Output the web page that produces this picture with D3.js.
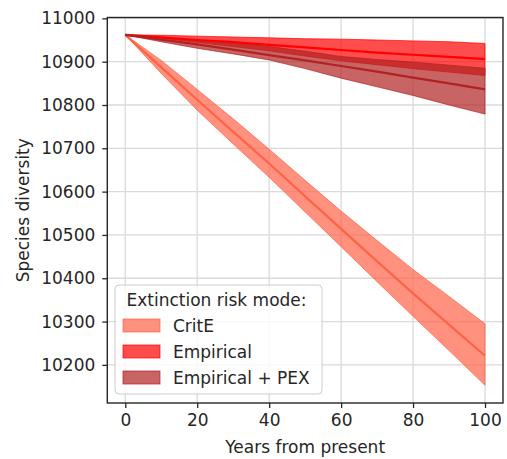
<!DOCTYPE html>
<html>
<head>
<meta charset="utf-8">
<script src="https://cdn.jsdelivr.net/npm/d3@7"></script>
<style>
  html, body { margin: 0; padding: 0; background: #fff; }
  svg { display: block; font-family: "DejaVu Sans", sans-serif; }
</style>
</head>
<body>
<svg id="chart" width="507" height="459"></svg>
<script>
// Simulated species diversity over the next century, per extinction risk mode
const years = [0, 10, 20, 30, 40, 50, 60, 70, 80, 90, 100];

const critEMean  = [10962, 10887, 10812, 10738, 10665, 10589, 10514, 10439, 10365, 10293, 10221];
const critELower = [10962, 10873, 10788, 10710, 10633, 10553, 10473, 10392, 10312, 10233, 10153];
const critEUpper = [10962, 10903, 10836, 10768, 10698, 10626, 10555, 10487, 10420, 10358, 10295];

const empMean  = [10962, 10956, 10950, 10945, 10939, 10933, 10927, 10921, 10916, 10911, 10906];
const empLower = [10962, 10954, 10945, 10935, 10925, 10913, 10902, 10893, 10884, 10876, 10868];
const empUpper = [10962, 10961, 10959, 10957, 10955, 10953, 10952, 10950, 10948, 10946, 10942];

const pexMean  = [10962, 10951, 10940, 10928, 10915, 10903, 10890, 10877, 10863, 10850, 10836];
const pexLower = [10962, 10946, 10931, 10918, 10904, 10884, 10862, 10842, 10822, 10800, 10779];
const pexUpper = [10962, 10956, 10950, 10943, 10935, 10924, 10912, 10905, 10899, 10892, 10885];

const xTicks = [0, 20, 40, 60, 80, 100];
const yTicks = [10200, 10300, 10400, 10500, 10600, 10700, 10800, 10900, 11000];

const modes = [
  { label: "CritE", mean: critEMean, lower: critELower, upper: critEUpper, band: "#ff6347", line: "#ff6347" },
  { label: "Empirical", mean: empMean, lower: empLower, upper: empUpper, band: "#ff0000", line: "#ff0000" },
  { label: "Empirical + PEX", mean: pexMean, lower: pexLower, upper: pexUpper, band: "#b22222", line: "#b22222" }
];

const textColor = "#262626";
const plotLeft = 107.3, plotRight = 503, plotTop = 17.5, plotBottom = 403;

const svg = d3.select("#chart");
const x = d3.scaleLinear().domain([-5, 105]).range([plotLeft, plotRight]);
const y = d3.scaleLinear().domain([10112, 11002]).range([plotBottom, plotTop]);

// grid
const grid = svg.append("g");
grid.selectAll("line.gx").data(xTicks).join("line")
  .attr("class", "gx")
  .attr("x1", d => x(d)).attr("x2", d => x(d))
  .attr("y1", plotTop).attr("y2", plotBottom)
  .attr("stroke", "#dadada").attr("stroke-width", 1.3);
grid.selectAll("line.gy").data(yTicks).join("line")
  .attr("class", "gy")
  .attr("x1", plotLeft).attr("x2", plotRight)
  .attr("y1", d => y(d)).attr("y2", d => y(d))
  .attr("stroke", "#dadada").attr("stroke-width", 1.3);

// bands then mean lines
const area = d3.area()
  .x((d, i) => x(years[i]))
  .y0(d => y(d[0]))
  .y1(d => y(d[1]));
const line = d3.line()
  .x((d, i) => x(years[i]))
  .y(d => y(d));

const plot = svg.append("g");
modes.forEach(m => {
  const pairs = m.lower.map((v, i) => [v, m.upper[i]]);
  plot.append("path")
    .attr("d", area(pairs))
    .attr("fill", m.band).attr("fill-opacity", 0.7)
    .attr("stroke", m.band).attr("stroke-opacity", 0.7).attr("stroke-width", 1);
});
modes.forEach(m => {
  plot.append("path")
    .attr("d", line(m.mean))
    .attr("fill", "none")
    .attr("stroke", m.line).attr("stroke-width", 2.2);
});

// axes
const xAxis = svg.append("g").attr("transform", `translate(0,${plotBottom})`)
  .call(d3.axisBottom(x).tickValues(xTicks).tickSize(5).tickPadding(6));
const yAxis = svg.append("g").attr("transform", `translate(${plotLeft},0)`)
  .call(d3.axisLeft(y).tickValues(yTicks).tickFormat(d3.format("d")).tickSize(5).tickPadding(7));
[xAxis, yAxis].forEach(a => {
  a.select(".domain").remove();
  a.selectAll(".tick line").attr("stroke", textColor).attr("stroke-width", 1.3);
  a.selectAll(".tick text").attr("fill", textColor).attr("font-size", 17)
    .attr("font-family", "DejaVu Sans, sans-serif");
});

// frame
svg.append("rect")
  .attr("x", plotLeft).attr("y", plotTop)
  .attr("width", plotRight - plotLeft).attr("height", plotBottom - plotTop)
  .attr("fill", "none").attr("stroke", textColor).attr("stroke-width", 1.4);

// axis titles
svg.append("text")
  .attr("x", (plotLeft + plotRight) / 2).attr("y", 453)
  .attr("text-anchor", "middle").attr("font-size", 17).attr("fill", textColor)
  .text("Years from present");
svg.append("text")
  .attr("transform", `translate(29,${(plotTop + plotBottom) / 2}) rotate(-90)`)
  .attr("text-anchor", "middle").attr("font-size", 17).attr("fill", textColor)
  .text("Species diversity");

// legend
const lg = svg.append("g");
lg.append("rect")
  .attr("x", 115).attr("y", 285).attr("width", 207).attr("height", 109)
  .attr("rx", 4).attr("fill", "#fff").attr("fill-opacity", 0.8)
  .attr("stroke", "#cccccc").attr("stroke-width", 1);
lg.append("text")
  .attr("x", 126.5).attr("y", 305.5).attr("font-size", 17).attr("fill", textColor)
  .text("Extinction risk mode:");
modes.forEach((m, i) => {
  const yy = 319 + i * 26;
  lg.append("rect")
    .attr("x", 123).attr("y", yy).attr("width", 37).attr("height", 13)
    .attr("fill", m.band).attr("fill-opacity", 0.7)
    .attr("stroke", m.band).attr("stroke-opacity", 0.7).attr("stroke-width", 1);
  lg.append("text")
    .attr("x", 173).attr("y", yy + 13).attr("font-size", 17).attr("fill", textColor)
    .text(m.label);
});
</script>
</body>
</html>
